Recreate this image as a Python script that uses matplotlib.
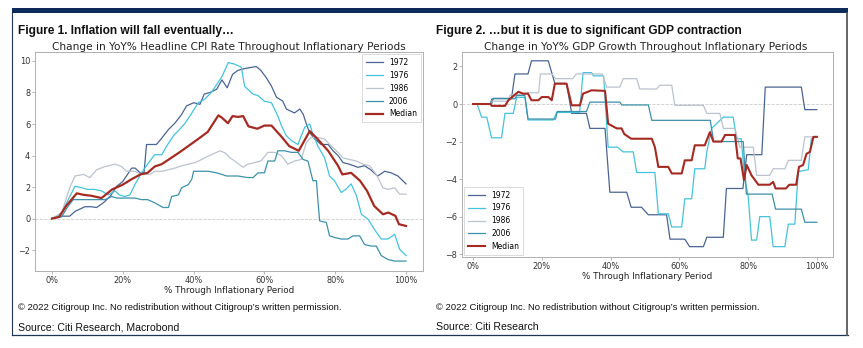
import matplotlib
matplotlib.use("Agg")
import matplotlib.pyplot as plt
from matplotlib.patches import Rectangle
from matplotlib.lines import Line2D
from matplotlib.ticker import PercentFormatter

W, H = 863, 348

# ---- CPI chart data (% through period, change in YoY%) ----
cpi_1972_x = [0, 2.7, 5, 6.5, 9.3, 11, 12.6, 14.5, 16.4, 18.3, 20, 22.5, 23.5, 24.9, 26, 26.7, 29.5, 31, 32.9,
              34.7, 36.6, 38, 40, 41.8, 43, 44.6, 46.5, 48, 49.5, 51, 52.5, 54, 57.7, 59, 60.5, 62, 63.4, 65.2,
              66.2, 68.5, 70, 71, 72, 72.8, 74.2, 76, 78, 79.4, 80.8, 82.2, 84, 86.4, 88.3, 90, 92, 94, 95.8,
              97.7, 100]
cpi_1972_y = [0, 0.15, 0.15, 0.45, 0.75, 0.75, 0.7, 1.0, 1.4, 2.05, 2.35, 3.2, 3.2, 2.9, 2.9, 4.7, 4.7, 5.1, 5.65,
              6.05, 6.6, 7.15, 7.35, 7.25, 7.9, 8.0, 8.2, 8.8, 8.3, 9.15, 9.4, 9.5, 9.65, 9.4, 8.95, 8.4, 7.7, 7.45,
              6.95, 6.7, 6.95, 6.6, 5.9, 5.45, 5.05, 4.7, 4.7, 4.3, 4.0, 3.55, 3.45, 3.25, 3.35, 3.1, 2.7, 3.0, 2.9,
              2.7, 2.2]

cpi_1976_x = [0, 2.7, 4.6, 6.5, 8.5, 10, 12, 14, 15.9, 17.8, 19, 20.5, 22, 23.4, 25.3, 27, 29, 31, 32.4, 34.3,
              36, 37.6, 39.5, 41.3, 43, 45, 46.5, 48, 49.8, 51.6, 53.5, 54.4, 55.3, 56.8, 58.2, 60, 62, 63.8, 64.8,
              66.2, 67.6, 69.5, 70.4, 71.4, 72.8, 73.7, 75.1, 77, 78.4, 79.8, 81.7, 83, 84.5, 86, 87.4, 89.3, 91.1,
              93, 94.9, 96.8, 98.2, 100]
cpi_1976_y = [0, 0.35, 1.2, 2.05, 1.95, 1.85, 1.85, 1.75, 1.5, 1.75, 1.5, 1.4, 1.5, 2.15, 2.9, 3.45, 4.05, 4.05,
              4.6, 5.25, 5.65, 6.05, 6.7, 7.35, 7.55, 8.0, 8.5, 9.0, 9.9, 9.8, 9.6, 8.4, 8.2, 7.9, 7.8, 7.45, 7.35,
              6.5, 5.9, 5.25, 4.95, 4.7, 5.25, 5.8, 6.0, 5.35, 4.6, 3.85, 2.7, 2.4, 1.65, 1.85, 2.2, 1.45, 0.27,
              -0.05, -0.7, -1.3, -1.3, -1.0, -1.95, -2.35]

cpi_1986_x = [0, 2.7, 5, 6.5, 8.9, 10.7, 12.6, 15, 17.8, 19.7, 21, 23.4, 25.3, 27.7, 29, 31, 32.9, 34.7, 36.6,
              38.5, 40.4, 42.3, 44, 46, 47.5, 49, 50.3, 51.6, 54, 55.3, 57.2, 59, 61, 62.9, 64.8, 66.6, 68.5, 70.4,
              71.8, 73.2, 75, 77, 78.9, 80.8, 82.2, 84, 86, 87.8, 89.7, 91.6, 93.5, 94.9, 96.8, 98.2, 100]
cpi_1986_y = [0, 0.35, 1.95, 2.7, 2.8, 2.6, 3.1, 3.3, 3.45, 3.3, 3.0, 3.0, 2.8, 2.8, 3.0, 3.0, 3.1, 3.2, 3.35,
              3.45, 3.55, 3.75, 3.95, 4.15, 4.3, 4.15, 3.85, 3.65, 3.25, 3.45, 3.55, 3.65, 4.2, 4.2, 4.0, 3.45,
              3.65, 3.75, 4.8, 5.15, 5.15, 5.05, 4.6, 4.2, 3.85, 3.75, 3.65, 3.45, 3.35, 2.8, 1.95, 1.85, 1.95,
              1.55, 1.55]

cpi_2006_x = [0, 2.7, 4.6, 6, 7.9, 15, 16.9, 18.3, 20.6, 23.4, 25.3, 27, 29, 31.4, 32.9, 33.8, 35.7, 36.6, 38.5,
              39.5, 40, 41.8, 44.2, 46.5, 48, 49.3, 52.5, 55.3, 56.8, 58.2, 60, 61, 62.9, 63.8, 65.7, 67.6, 69.5,
              70.9, 72.3, 73.7, 74.7, 75.1, 75.6, 77.5, 78.4, 79.8, 81.7, 83.6, 85, 86.9, 88.3, 90.2, 91.6, 93,
              94.9, 96.8, 100]
cpi_2006_y = [0, 0.1, 0.8, 1.2, 1.2, 1.2, 1.4, 1.3, 1.3, 1.3, 1.2, 1.2, 1.0, 0.7, 0.7, 1.4, 1.5, 1.95, 2.15,
              2.5, 3.0, 3.0, 3.0, 2.9, 2.8, 2.7, 2.7, 2.6, 2.6, 2.9, 2.9, 3.65, 3.65, 4.3, 4.3, 4.2, 4.2, 3.75,
              3.65, 2.4, 2.4, 1.2, -0.15, -0.25, -1.1, -1.2, -1.3, -1.3, -1.1, -1.1, -1.65, -1.75, -1.75, -2.35,
              -2.6, -2.7, -2.7]

cpi_med_x = [0, 2, 4, 7, 9, 11, 14, 17, 20, 22.5, 25, 27, 29, 31, 33, 36, 38.5, 41, 44, 47, 48, 49.7, 51,
             52.5, 54, 55.5, 58, 60, 62, 65, 67, 69.7, 72.8, 75, 78, 80.8, 82, 84.5, 87, 89, 91, 93.5, 95, 97,
             98, 100]
cpi_med_y = [0, 0.1, 0.8, 1.6, 1.5, 1.45, 1.3, 1.85, 2.15, 2.5, 2.8, 2.9, 3.3, 3.45, 3.75, 4.2, 4.6, 5.0, 5.5,
             6.55, 6.4, 6.05, 6.5, 6.45, 6.5, 5.85, 5.7, 5.9, 5.9, 5.15, 4.6, 4.3, 5.55, 5.05, 4.3, 3.35, 2.8,
             2.9, 2.4, 1.75, 0.8, 0.27, 0.38, 0.17, -0.36, -0.47]

# ---- GDP chart data ----
gdp_1972_x = [0, 5.4, 5.9, 11.2, 12.2, 16, 17, 21.9, 23.8, 27.2, 28.7, 33, 34, 38.4, 39.8, 44.7, 46, 49, 51,
              56.3, 57.3, 61.6, 63, 67, 68, 72.8, 73.7, 78.5, 79.6, 84, 85, 95.5, 96.5, 100]
gdp_1972_y = [0, 0, 0.3, 0.3, 1.6, 1.6, 2.3, 2.3, 1.1, 1.1, -0.5, -0.5, -1.3, -1.3, -4.7, -4.7, -5.5, -5.5,
              -5.9, -5.9, -7.2, -7.2, -7.6, -7.6, -7.1, -7.1, -4.5, -4.5, -2.7, -2.7, 0.9, 0.9, -0.3, -0.3]

gdp_1976_x = [0, 1.2, 2.5, 4, 5.4, 8.3, 9.3, 11.7, 12.7, 15.1, 16, 23.4, 24.3, 31, 32, 34.5, 35, 38, 39.3, 42,
              43.7, 46.6, 47.6, 52.9, 53.9, 56.8, 57.8, 60.7, 61.6, 63.6, 64.5, 67.4, 68, 69.4, 72.8, 75.7, 76.6,
              78, 79, 80, 81, 82.5, 83.4, 86.3, 87.3, 90.7, 91.7, 93.6, 94.6, 97.5, 98.4, 100]
gdp_1976_y = [0, 0, -0.7, -0.7, -1.8, -1.8, -0.5, -0.5, 0.35, 0.35, -0.85, -0.85, -0.45, -0.45, 1.67, 1.67,
              1.5, 1.5, -2.3, -2.3, -2.55, -2.55, -3.65, -3.65, -5.85, -5.85, -6.55, -6.55, -5.05, -5.05, -3.45,
              -3.45, -2.55, -1.3, -0.7, -0.7, -1.85, -1.85, -4.0, -4.85, -7.25, -7.25, -6.0, -6.0, -7.6, -7.6,
              -6.4, -6.4, -3.6, -3.5, -1.85, -1.75]

gdp_1986_x = [0, 5, 5.5, 10.3, 10.8, 15, 15.8, 19.1, 19.6, 23, 24, 29, 30, 37.6, 38.9, 42.7, 43.7, 47.6, 48.5,
              53.4, 54.4, 57.8, 58.7, 67, 68, 71.8, 72.8, 76.2, 77.6, 81.5, 82.5, 86.3, 87.3, 90.7, 91.7, 95.5,
              96.5, 100]
gdp_1986_y = [0, 0, 0.15, 0.15, 0.5, 0.5, 0.6, 0.6, 1.6, 1.6, 1.35, 1.35, 1.6, 1.6, 0.9, 0.9, 1.35, 1.35, 0.8,
              0.8, 1.0, 1.0, -0.07, -0.07, -0.5, -0.5, -1.3, -1.3, -2.3, -2.3, -3.8, -3.8, -3.45, -3.45, -3.0,
              -3.0, -1.75, -1.75]

gdp_2006_x = [0, 5, 5.5, 12.2, 12.7, 15.1, 16, 24, 24.5, 33, 34, 42.7, 43.3, 51, 52, 69, 70, 78.6, 79.5, 87,
              88, 95.5, 96.5, 100]
gdp_2006_y = [0, 0, 0.28, 0.28, 0.45, 0.45, -0.8, -0.8, -0.4, -0.4, 0.1, 0.1, -0.05, -0.05, -0.87, -0.87,
              -2.0, -2.0, -4.8, -4.8, -5.6, -5.6, -6.3, -6.3]

gdp_med_x = [0, 5, 5.5, 9.3, 10.3, 13.2, 14.6, 16, 17, 19, 20, 21.9, 22.9, 23.8, 27.2, 28.7, 31.1, 32, 34.5,
             38.4, 39.3, 41.8, 43.2, 44, 46, 52, 52.9, 53.9, 56.8, 57.8, 60.7, 61.6, 63.6, 64.5, 67.4, 68.9,
             69.9, 72.3, 73.3, 76.2, 77, 77.8, 78.8, 79.6, 81, 83, 86.3, 87.3, 88, 91, 92, 94, 94.8, 96, 97, 98,
             99, 100]
gdp_med_y = [0, 0, -0.1, -0.1, 0.2, 0.65, 0.55, 0.55, 0.2, 0.2, 0.37, 0.37, 0.2, 1.08, 1.08, -0.07, -0.07,
             0.55, 0.73, 0.7, -1.05, -1.3, -1.3, -1.6, -1.85, -1.85, -2.3, -3.35, -3.35, -3.7, -3.7, -3.0, -3.0,
             -2.2, -2.2, -1.5, -2.0, -2.0, -1.65, -1.65, -2.9, -2.9, -4.05, -3.25, -3.8, -4.3, -4.3, -4.15, -4.5,
             -4.5, -4.3, -4.3, -3.35, -3.25, -2.65, -2.55, -1.75, -1.75]

labels = ["1972", "1976", "1986", "2006", "Median"]
colors = ["#4a6592", "#44c3dc", "#bcc2ce", "#3d91a9", "#a52a22"]

cpi_series = [(cpi_1972_x, cpi_1972_y), (cpi_1976_x, cpi_1976_y), (cpi_1986_x, cpi_1986_y),
              (cpi_2006_x, cpi_2006_y), (cpi_med_x, cpi_med_y)]
gdp_series = [(gdp_1972_x, gdp_1972_y), (gdp_1976_x, gdp_1976_y), (gdp_1986_x, gdp_1986_y),
              (gdp_2006_x, gdp_2006_y), (gdp_med_x, gdp_med_y)]

NARROW = ["Liberation Sans Narrow", "Liberation Sans", "DejaVu Sans"]


def fx(x):
    return x / W


def fy(y):
    return 1 - y / H


def draw_panel(ax, series, ylim, xlim, yticks, legend_loc, med_lw):
    for (xs, ys), lab, col in zip(series, labels, colors):
        lw = med_lw if lab == "Median" else 0.9
        ax.plot([v / 100 for v in xs], ys, color=col, lw=lw, label=lab)
    ax.axhline(0, color="#cccccc", lw=0.6, ls="--", zorder=0)
    ax.set_xlim(*xlim)
    ax.set_ylim(*ylim)
    ax.set_yticks(yticks)
    ax.set_xticks([0, 0.2, 0.4, 0.6, 0.8, 1.0])
    ax.xaxis.set_major_formatter(PercentFormatter(1.0, decimals=0))
    ax.tick_params(labelsize=5.9, colors="#999999", labelcolor="#333333", length=2, width=0.5, pad=1.5)
    for s in ax.spines.values():
        s.set_color("#b0b0b0")
        s.set_linewidth(0.7)
    ax.set_xlabel("% Through Inflationary Period", fontsize=6.3, color="#222222", labelpad=0.5)
    leg = ax.legend(loc=legend_loc, fontsize=5.5, frameon=True, fancybox=False,
                    handlelength=2.2, borderpad=0.5, labelspacing=0.5, borderaxespad=0.3)
    leg.get_frame().set_edgecolor("#cccccc")
    leg.get_frame().set_linewidth(0.6)


fig = plt.figure(figsize=(W / 100, H / 100), dpi=100)

ax1 = fig.add_axes([fx(35), fy(271), fx(423 - 35), (271 - 52) / H])
draw_panel(ax1, cpi_series, (-3.33, 10.57), (-0.048, 1.048), [-2, 0, 2, 4, 6, 8, 10], "upper right", 1.6)

ax2 = fig.add_axes([fx(462), fy(257), fx(833 - 462), (257 - 52) / H])
draw_panel(ax2, gdp_series, (-8.15, 2.77), (-0.032, 1.047), [-8, -6, -4, -2, 0, 2], "lower left", 1.5)

# subtitles
fig.text(fx(229), fy(46.5), "Change in YoY% Headline CPI Rate Throughout Inflationary Periods",
         ha="center", va="center", fontsize=7.55, color="#222222")
fig.text(fx(646), fy(46.5), "Change in YoY% GDP Growth Throughout Inflationary Periods",
         ha="center", va="center", fontsize=7.55, color="#222222")

# figure titles
fig.text(fx(18), fy(31), "Figure 1. Inflation will fall eventually\u2026", ha="left", va="center",
         fontsize=8.6, fontweight="bold", family=NARROW, color="#111111")
fig.text(fx(436), fy(31), "Figure 2. \u2026but it is due to significant GDP contraction", ha="left",
         va="center", fontsize=8.6, fontweight="bold", family=NARROW, color="#111111")

# footers
copy_txt = "\u00a9 2022 Citigroup Inc. No redistribution without Citigroup\u2019s written permission."
for x0, src in [(18, "Source: Citi Research, Macrobond"), (436, "Source: Citi Research")]:
    fig.text(fx(x0), fy(307), copy_txt, ha="left", va="center", fontsize=6.8, family=NARROW,
             color="#111111")
    fig.text(fx(x0), fy(327), src, ha="left", va="center", fontsize=7.6, family=NARROW, color="#111111")

# frame
fig.add_artist(Rectangle((fx(12), fy(13)), fx(848 - 12), 5 / H, transform=fig.transFigure,
                         facecolor="#0d2b5b", edgecolor="none"))
fig.add_artist(Line2D([fx(12), fx(12)], [fy(13), fy(335)], transform=fig.transFigure,
                      color="#1f3556", lw=0.8))
fig.add_artist(Line2D([fx(12), fx(848)], [fy(335), fy(335)], transform=fig.transFigure,
                      color="#1f3556", lw=0.9))
fig.add_artist(Line2D([fx(847), fx(847)], [fy(13), fy(335)], transform=fig.transFigure,
                      color="#555a60", lw=1.3))

fig.savefig("out.png", dpi=100)
